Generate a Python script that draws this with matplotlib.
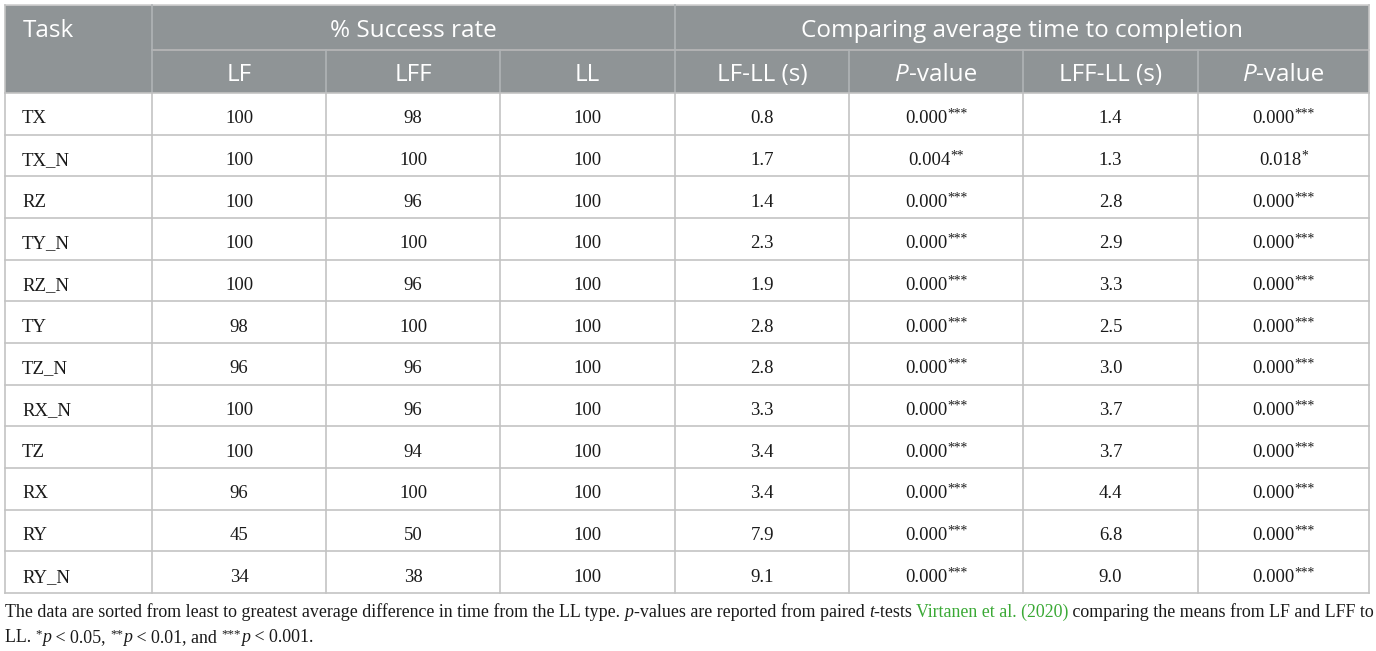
import matplotlib
matplotlib.use('Agg')
import matplotlib.pyplot as plt

# table data
tasks = ['TX', 'TX_N', 'RZ', 'TY_N', 'RZ_N', 'TY', 'TZ_N', 'RX_N', 'TZ', 'RX', 'RY', 'RY_N']
lf = [100, 100, 100, 100, 100, 98, 96, 100, 100, 96, 45, 34]
lff = [98, 100, 96, 100, 96, 100, 96, 96, 94, 100, 50, 38]
ll = [100] * 12
lf_ll = ['0.8', '1.7', '1.4', '2.3', '1.9', '2.8', '2.8', '3.3', '3.4', '3.4', '7.9', '9.1']
p_lf = ['0.000***', '0.004**'] + ['0.000***'] * 10
lff_ll = ['1.4', '1.3', '2.8', '2.9', '3.3', '2.5', '3.0', '3.7', '3.7', '4.4', '6.8', '9.0']
p_lff = ['0.000***', '0.018*'] + ['0.000***'] * 10

group_headers = ['% Success rate', 'Comparing average time to completion']
sub_headers = ['LF', 'LFF', 'LL', 'LF-LL (s)', 'P-value', 'LFF-LL (s)', 'P-value']

# layout in pixels
W, H = 1376, 651
col_x = [5, 152, 326, 500, 675, 849, 1023, 1198, 1369]
top, mid, head_bot, bot = 5, 50, 93, 593
row_h = (bot - head_bot) / len(tasks)

HEAD_BG = '#8f9496'
GRID = '#c3c3c3'
TXT = '#1a1a1a'
SANS = 'Open Sans'
SERIF = 'Liberation Serif'
HEAD_FS = 17.5
BODY_FS = 13.5
NOTE_FS = 13
SUP = 0.72

fig = plt.figure(figsize=(W / 100, H / 100), dpi=100)
ax = fig.add_axes([0, 0, 1, 1])
ax.set_xlim(0, W)
ax.set_ylim(H, 0)
ax.axis('off')
renderer = fig.canvas.get_renderer()


def run_size(st, fs):
    return fs * SUP if st.get('sup') else fs


def run_widths(runs, fs, family):
    widths = []
    for s, st in runs:
        t = ax.text(0, 0, s, fontsize=run_size(st, fs), family=family,
                    style='italic' if st.get('italic') else 'normal')
        widths.append(t.get_window_extent(renderer).width)
        t.remove()
    return widths


def draw_runs(x, y, runs, align='left', fs=BODY_FS, family=SERIF):
    # runs: list of (text, style); y is the baseline
    widths = run_widths(runs, fs, family)
    cx = x - sum(widths) / 2 if align == 'center' else x
    for (s, st), w in zip(runs, widths):
        dy = -fs * 0.4 if st.get('sup') else 0
        ax.text(cx, y + dy, s, fontsize=run_size(st, fs), family=family,
                style='italic' if st.get('italic') else 'normal',
                color=st.get('color', TXT), va='baseline', ha='left')
        cx += w


# header background
ax.add_patch(plt.Rectangle((col_x[0], top), col_x[-1] - col_x[0], head_bot - top,
                           facecolor=HEAD_BG, edgecolor='none', zorder=0))

# grid lines
lw = 1.2
ax.plot([col_x[0], col_x[-1]], [top, top], color='#d0d0d0', lw=lw)
ax.plot([col_x[1], col_x[-1]], [mid, mid], color='#b8b8b8', lw=lw)
for i in range(len(tasks) + 1):
    y = head_bot + i * row_h
    ax.plot([col_x[0], col_x[-1]], [y, y], color=GRID, lw=lw)
for j, x in enumerate(col_x):
    y0 = top if j in (0, 1, 4, 8) else mid
    c = '#b0b4b6' if j not in (0, 8) else GRID
    ax.plot([x, x], [y0, head_bot], color=c, lw=lw)
    ax.plot([x, x], [head_bot, bot], color=GRID, lw=lw)

# header text
hb1 = (top + mid) / 2 + 9.5
hb2 = (mid + head_bot) / 2 + 9.2
ax.text(col_x[0] + 18, hb1, 'Task', fontsize=HEAD_FS, family=SANS,
        color='white', va='baseline', ha='left')
ax.text((col_x[1] + col_x[4]) / 2, hb1, group_headers[0], fontsize=HEAD_FS,
        family=SANS, color='white', va='baseline', ha='center')
ax.text((col_x[4] + col_x[8]) / 2, hb1, group_headers[1], fontsize=HEAD_FS,
        family=SANS, color='white', va='baseline', ha='center')
for j, lab in enumerate(sub_headers):
    xc = (col_x[j + 1] + col_x[j + 2]) / 2
    if lab.startswith('P-'):
        draw_runs(xc, hb2, [('P', {'italic': True, 'color': 'white'}),
                            ('-value', {'color': 'white'})],
                  align='center', fs=HEAD_FS, family=SANS)
    else:
        ax.text(xc, hb2, lab, fontsize=HEAD_FS, family=SANS, color='white',
                va='baseline', ha='center')


def pval_runs(s):
    num = s.rstrip('*')
    return [(num, {}), (s[len(num):], {'sup': True})]


# body
for i, task in enumerate(tasks):
    yb = head_bot + (i + 0.5) * row_h + 9.5
    ax.text(col_x[0] + 17, yb, task, fontsize=BODY_FS, family=SERIF, color=TXT,
            va='baseline', ha='left')
    vals = [lf[i], lff[i], ll[i], lf_ll[i], p_lf[i], lff_ll[i], p_lff[i]]
    for j, v in enumerate(vals):
        xc = (col_x[j + 1] + col_x[j + 2]) / 2
        if j in (4, 6):
            draw_runs(xc, yb, pval_runs(v), align='center')
        else:
            ax.text(xc, yb, str(v), fontsize=BODY_FS, family=SERIF, color=TXT,
                    va='baseline', ha='center')

# footnote
green = '#3aa935'
line1 = [('The data are sorted from least to greatest average difference in time from the LL type. ', {}),
         ('p', {'italic': True}),
         ('-values are reported from paired ', {}),
         ('t', {'italic': True}),
         ('-tests ', {}),
         ('Virtanen et al. (2020)', {'color': green}),
         (' comparing the means from LF and LFF to', {})]
line2 = [('LL. ', {}), ('*', {'sup': True}), ('p', {'italic': True}), (' < 0.05, ', {}),
         ('**', {'sup': True}), ('p', {'italic': True}), (' < 0.01, and ', {}),
         ('***', {'sup': True}), ('p', {'italic': True}), (' < 0.001.', {})]
# shrink the note so the first line spans the table width
note_fs = NOTE_FS * (col_x[-1] - col_x[0] - 4) / sum(run_widths(line1, NOTE_FS, SERIF))
draw_runs(5, 617, line1, fs=note_fs)
draw_runs(5, 642, line2, fs=note_fs)

fig.savefig('out.png', dpi=100)
